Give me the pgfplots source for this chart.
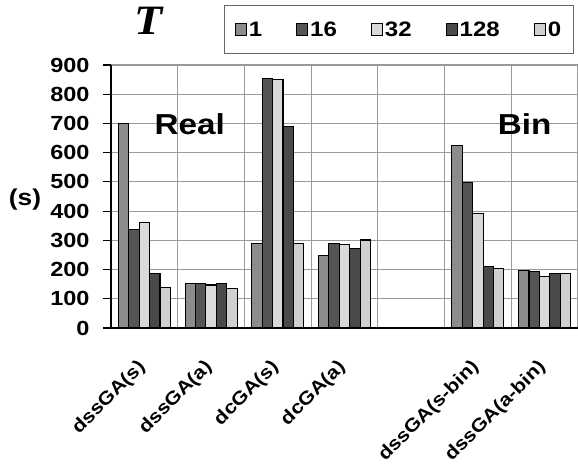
\documentclass[border=0pt]{standalone}
\usepackage{pgfplots}
\pgfplotsset{compat=1.18}
\usepackage{fontspec}
\setmainfont{Liberation Sans}[FakeStretch=1.15]
\newfontfamily\titlefont{Liberation Serif}[FakeStretch=1.1]

\definecolor{cA}{HTML}{8C8C8C}
\definecolor{cB}{HTML}{555555}
\definecolor{cC}{HTML}{D9D9D9}
\definecolor{cD}{HTML}{4A4A4A}
\definecolor{cE}{HTML}{D0D0D0}
\definecolor{gridgray}{HTML}{9A9A9A}

\begin{document}
\begin{tikzpicture}
\useasboundingbox (0,0) rectangle (578bp,464bp);
\begin{axis}[
  at={(111bp,136bp)}, anchor=south west,
  scale only axis, width=467bp, height=263bp,
  xmin=-0.5, xmax=6.5, ymin=0, ymax=900,
  axis x line*=bottom, axis y line*=left,
  axis line style={black, line width=1.3bp, -},
  tick align=outside,
  tick style={black, line width=1.2bp},
  ytick={0,100,...,900},
  major tick length=8bp, minor tick length=8bp,
  xtick={0,...,6},
  x tick style={draw=none},
  minor xtick={-0.5,0.5,...,6.5},
  xminorgrids, ymajorgrids,
  grid style={gridgray, line width=1.2bp},
  minor grid style={gridgray, line width=1.2bp},
  xticklabels={dssGA(s),dssGA(a),dcGA(s),dcGA(a),,dssGA(s-bin),dssGA(a-bin)},
  xticklabel style={xshift=-8bp, yshift=-22bp, rotate=45, anchor=north east,
    inner sep=0pt, font=\bfseries\fontsize{18.5}{20}\selectfont},
  yticklabel style={font=\bfseries\fontsize{20.5}{22}\selectfont, xshift=-10bp},
  /pgf/number format/assume math mode=true,
  ybar, bar width=0.156,
  every axis plot/.append style={draw=black, line width=1.1bp},
  area legend,
  legend image code/.code={\draw[#1, line width=1bp] (0bp,-6bp) rectangle (11bp,6bp);},
  legend columns=5,
  legend style={at={(0.991,1.228)}, anchor=north east, draw=gray!80!black,
    line width=1.2bp, inner xsep=10bp, inner ysep=14bp,
    font=\bfseries\fontsize{21}{23}\selectfont,
    /tikz/every even column/.append style={column sep=32bp}},
  clip=false,
]
% time per run, five settings of the parameter
\addplot[fill=cA, bar shift=-0.312] coordinates {(0,700) (1,153) (2,289) (3,248) (5,625) (6,197)};
\addplot[fill=cB, bar shift=-0.156] coordinates {(0,338) (1,153) (2,854) (3,288) (5,498) (6,194)};
\addplot[fill=cC, bar shift=0]      coordinates {(0,362) (1,147) (2,849) (3,285) (5,391) (6,177)};
\addplot[fill=cD, bar shift=0.156]  coordinates {(0,185) (1,153) (2,691) (3,273) (5,211) (6,185)};
\addplot[fill=cE, bar shift=0.312]  coordinates {(0,140) (1,134) (2,289) (3,301) (5,205) (6,185)};
\legend{1,16,32,128,0}
\node[font=\bfseries\fontsize{29}{30}\selectfont] at (axis cs:0.68,698) {Real};
\node[font=\bfseries\fontsize{29}{30}\selectfont] at (axis cs:5.70,698) {Bin};
\end{axis}
\node[font=\bfseries\fontsize{23}{25}\selectfont] at (25bp,264bp) {(s)};
\node[font=\titlefont\bfseries\itshape\fontsize{42}{44}\selectfont] at (149bp,443bp) {T};
\end{tikzpicture}
\end{document}
